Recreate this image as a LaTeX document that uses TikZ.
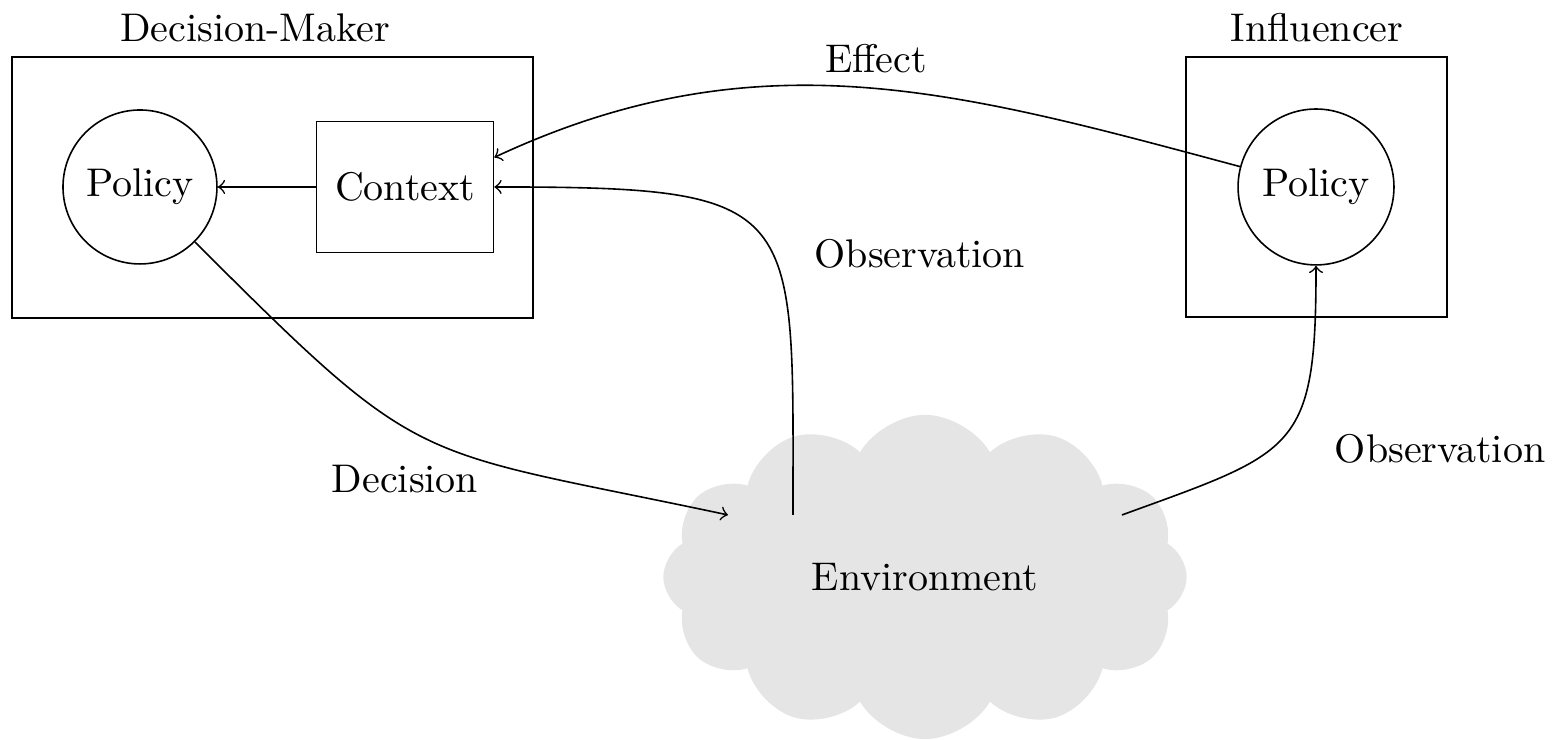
\documentclass[tikz,border=0pt]{standalone}
\usepackage{tikz}
\usetikzlibrary{positioning, shapes.symbols}

\begin{document}
\begin{tikzpicture}[
    box/.style={draw, minimum width=1.555cm, minimum height=1.151cm},
    agentbox/.style={draw, inner sep=0pt},
    agent/.style={draw, circle, inner sep=0pt},
    env/.style={cloud, cloud puffs=12, cloud puff arc=120, cloud ignores aspect,
                fill=gray!20, inner sep=0pt, minimum width=4.6cm, minimum height=2.85cm},
    arrow/.style={->}
    ]
    \useasboundingbox (0,0) rectangle (13.708,6.494);

    % decision-maker side
    \node[agentbox, minimum width=4.579cm, minimum height=2.293cm] (dmbox) at (2.395,4.846) {};
    \node[anchor=base] (dmlabel) at (2.241,6.125) {Decision-Maker};
    \node[agent, minimum size=1.353cm] (dpolicy) at (1.230,4.851) {Policy};
    \node[box, right=0.861cm of dpolicy] (context) {Context};

    % influencer side
    \node[agentbox, minimum width=2.293cm, minimum height=2.285cm] (infbox) at (11.568,4.85) {};
    \node[anchor=base] (inflabel) at (11.573,6.125) {Influencer};
    \node[agent, minimum size=1.37cm] (ipolicy) at (11.564,4.851) {Policy};

    % environment
    \node[env] (env) at (8.128,1.424) {Environment};
    \coordinate (envin)  at ([shift={(-1.731,0.545)}]env.center);
    \coordinate (envobs) at ([shift={(-1.160,0.545)}]env.center);
    \coordinate (envinf) at ([shift={(1.731,0.545)}]env.center);

    \draw[arrow] (context) -- (dpolicy);
    \draw[arrow] (ipolicy) to[out=165, in=25] ([yshift=0.26cm]context.east);
    \draw[arrow] (envobs) to[out=90, in=0, looseness=1.8] (context.east);
    \draw[arrow] (dpolicy) to[out=-45, in=168, looseness=1.4] (envin);
    \draw[arrow] (envinf) to[out=20, in=-90, looseness=1.5] (ipolicy.south);

    % labels
    \node[anchor=base] (effect) at (7.698,5.861) {Effect};
    \node[anchor=base] (obsdm) at (8.084,4.139) {Observation};
    \node[anchor=base] (decision) at (3.559,2.170) {Decision};
    \node[anchor=base] (obsinf) at (12.654,2.434) {Observation};
\end{tikzpicture}
\end{document}
